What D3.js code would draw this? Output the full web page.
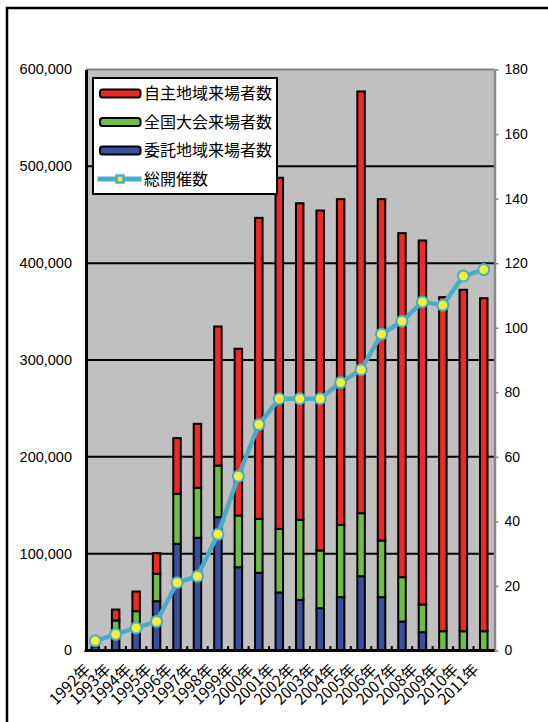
<!DOCTYPE html>
<html>
<head>
<meta charset="utf-8">
<script src="https://cdn.jsdelivr.net/npm/d3@7/dist/d3.min.js"></script>
<style>
  html, body { margin: 0; padding: 0; background: #fff; }
  svg { display: block; }
  text { font-family: "Liberation Sans", "Noto Sans CJK JP", sans-serif; fill: #000; }
</style>
</head>
<body>
<svg id="chart" width="548" height="722"></svg>
<script>
// Years on the category axis
const years = ["1992年","1993年","1994年","1995年","1996年","1997年","1998年","1999年","2000年","2001年",
               "2002年","2003年","2004年","2005年","2006年","2007年","2008年","2009年","2010年","2011年"];

// Visitors per year, by type (stacked bottom to top: 委託 → 全国大会 → 自主)
const itakuVisitors  = [4000, 16000, 24000, 50900, 110200, 116400, 137700, 86000, 80200, 59900,
                        52300, 43700, 55100, 76700, 55100, 29900, 18900, 0, 0, 0];
const zenkokuVisitors = [0, 15000, 16600, 28300, 51600, 51600, 53300, 53400, 55800, 65700,
                        82700, 59600, 74700, 65100, 58500, 45800, 28600, 19900, 19900, 19900];
const jishuVisitors  = [0, 11300, 20300, 21300, 57500, 66100, 143600, 172200, 310800, 362600,
                        326900, 351100, 336300, 435500, 352500, 355300, 375900, 345000, 352600, 343900];

// Total number of events held (right axis)
const eventCounts = [3, 5, 7, 9, 21, 23, 36, 54, 70, 78, 78, 78, 83, 87, 98, 102, 108, 107, 116, 118];

// Axis tick values
const leftTicks  = [0, 100000, 200000, 300000, 400000, 500000, 600000];
const rightTicks = [0, 20, 40, 60, 80, 100, 120, 140, 160, 180];

// Legend entries
const seriesNames = ["自主地域来場者数", "全国大会来場者数", "委託地域来場者数", "総開催数"];

const colors = { jishu: "#EE2A26", zenkoku: "#6CBE45", itaku: "#3A4FA0", line: "#4BACC6", marker: "#F4EE3C" };

const svg = d3.select("#chart");

// Outer frame
svg.append("rect").attr("x", 7).attr("y", 8).attr("width", 600).attr("height", 760)
  .attr("fill", "#fff").attr("stroke", "#000").attr("stroke-width", 2.5);

const plot = { left: 86, right: 494.5, top: 69.5, bottom: 650.5 };

const x = d3.scaleBand().domain(years).range([85, 494]).padding(0);
const yL = d3.scaleLinear().domain([0, 600000]).range([plot.bottom, plot.top]);
const yR = d3.scaleLinear().domain([0, 180]).range([plot.bottom, plot.top]);

// Plot background
svg.append("rect").attr("x", plot.left).attr("y", plot.top)
  .attr("width", plot.right - plot.left).attr("height", plot.bottom - plot.top)
  .attr("fill", "#C0C0C0");

// Gridlines
svg.append("g").selectAll("line").data(leftTicks.filter(d => d > 0 && d < 600000)).join("line")
  .attr("x1", plot.left).attr("x2", plot.right)
  .attr("y1", d => yL(d)).attr("y2", d => yL(d))
  .attr("stroke", "#000").attr("stroke-width", 2);

// Top border of the plot area
svg.append("line").attr("x1", plot.left).attr("x2", plot.right)
  .attr("y1", plot.top).attr("y2", plot.top)
  .attr("stroke", "#808080").attr("stroke-width", 2);

// Stacked bars
const table = years.map((y, i) => ({ year: y, itaku: itakuVisitors[i], zenkoku: zenkokuVisitors[i], jishu: jishuVisitors[i] }));
const keys = ["itaku", "zenkoku", "jishu"];
const stacked = d3.stack().keys(keys)(table);
const barW = 7.5;

svg.append("g").selectAll("g").data(stacked).join("g")
  .attr("fill", d => colors[d.key])
  .selectAll("rect").data(d => d.filter(s => s[1] - s[0] > 0)).join("rect")
  .attr("x", d => x(d.data.year) + x.bandwidth() / 2 - barW / 2)
  .attr("width", barW)
  .attr("y", d => yL(d[1]))
  .attr("height", d => yL(d[0]) - yL(d[1]))
  .attr("stroke", "#000").attr("stroke-width", 2);

// Right axis (events)
const rAxis = svg.append("g").attr("transform", `translate(${plot.right},0)`)
  .call(d3.axisRight(yR).tickValues(rightTicks).tickSize(4).tickPadding(6).tickSizeOuter(0));
rAxis.select(".domain").attr("stroke", "#888").attr("stroke-width", 2.5);
rAxis.selectAll(".tick line").attr("stroke", "#888").attr("stroke-width", 1.5);
rAxis.selectAll(".tick text").style("font-size", "14px");

// Left axis (visitors)
const lAxis = svg.append("g").attr("transform", `translate(${plot.left},0)`)
  .call(d3.axisLeft(yL).tickValues(leftTicks).tickSize(0).tickPadding(14).tickFormat(d3.format(",")));
lAxis.select(".domain").attr("stroke", "#000").attr("stroke-width", 3);
lAxis.selectAll(".tick text").style("font-size", "14.5px").attr("dy", "0.3em");

// Bottom axis with rotated year labels
const bAxis = svg.append("g").attr("transform", `translate(0,${plot.bottom})`)
  .call(d3.axisBottom(x).tickSize(0).tickSizeOuter(0));
bAxis.select(".domain").attr("stroke", "#000").attr("stroke-width", 3)
  .attr("d", `M${plot.left - 1.5},0H${plot.right}`);
bAxis.selectAll(".tick text")
  .style("font-family", "'Noto Sans CJK JP', sans-serif")
  .style("font-size", "15.5px")
  .attr("text-anchor", "end")
  .attr("x", 0).attr("y", 0).attr("dy", 0)
  .attr("transform", "translate(-4,20) rotate(-45)");

// Small inward ticks between categories
svg.append("g").selectAll("line").data(years.slice(1)).join("line")
  .attr("x1", d => x(d)).attr("x2", d => x(d))
  .attr("y1", plot.bottom).attr("y2", plot.bottom - 4.5)
  .attr("stroke", "#000").attr("stroke-width", 2);

// Event count line with markers
const cx = d => x(d) + x.bandwidth() / 2;
const line = d3.line().x((d, i) => cx(years[i])).y(d => yR(d));
svg.append("path").datum(eventCounts).attr("d", line)
  .attr("fill", "none").attr("stroke", colors.line).attr("stroke-width", 4.5)
  .attr("stroke-linejoin", "round");
svg.append("g").selectAll("circle").data(eventCounts).join("circle")
  .attr("cx", (d, i) => cx(years[i])).attr("cy", d => yR(d)).attr("r", 5.5)
  .attr("fill", colors.marker).attr("stroke", colors.line).attr("stroke-width", 2);

// Legend
const lg = svg.append("g");
lg.append("rect").attr("x", 93).attr("y", 78).attr("width", 184).attr("height", 116)
  .attr("fill", "#fff").attr("stroke", "#000").attr("stroke-width", 2);
const rowY = [93.5, 122, 150.5, 179];
const swatchColors = [colors.jishu, colors.zenkoku, colors.itaku];
swatchColors.forEach((c, i) => {
  lg.append("rect").attr("x", 100).attr("y", rowY[i] - 4).attr("width", 40.5).attr("height", 8)
    .attr("rx", 2.5).attr("fill", c).attr("stroke", "#000").attr("stroke-width", 2);
});
lg.append("line").attr("x1", 97.5).attr("x2", 141.5).attr("y1", rowY[3]).attr("y2", rowY[3])
  .attr("stroke", colors.line).attr("stroke-width", 5);
lg.append("rect").attr("x", 116.5).attr("y", rowY[3] - 3.5).attr("width", 7).attr("height", 7)
  .attr("fill", colors.marker).attr("stroke", colors.line).attr("stroke-width", 2.5);
lg.selectAll("text").data(seriesNames).join("text")
  .attr("x", 144).attr("y", (d, i) => rowY[i]).attr("dy", "0.36em")
  .style("font-family", "'Noto Sans CJK JP', sans-serif").style("font-size", "16px")
  .text(d => d);
</script>
</body>
</html>
